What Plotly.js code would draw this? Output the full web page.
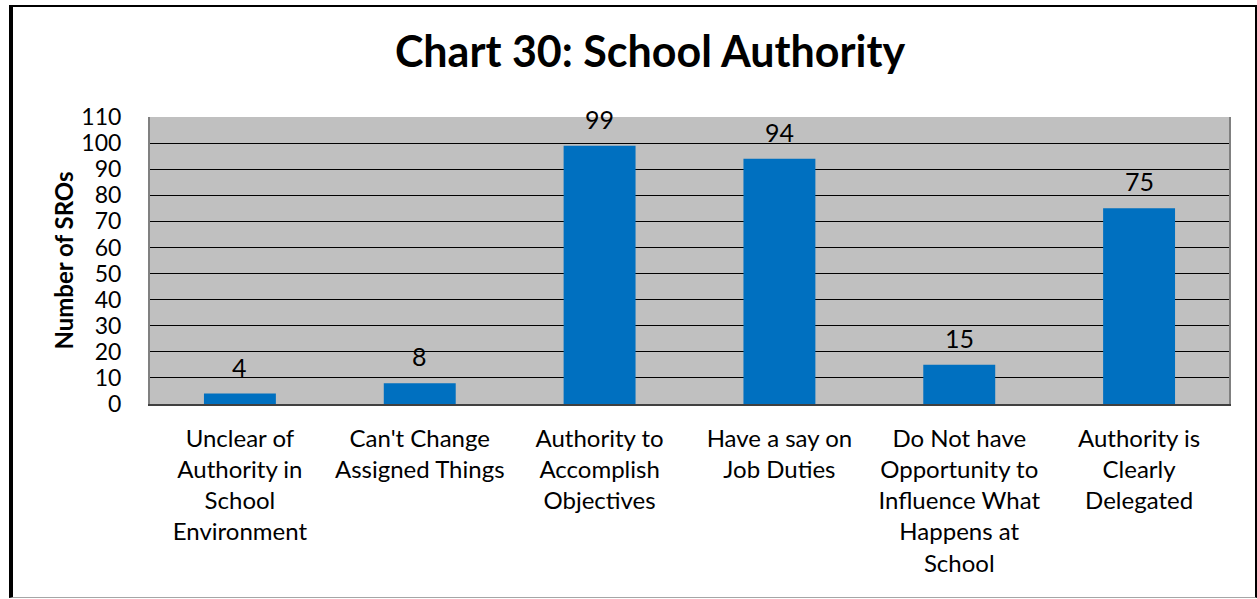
<!DOCTYPE html>
<html>
<head>
<meta charset="utf-8">
<script src="https://cdn.plot.ly/plotly-3.0.1.min.js"></script>
<style>
  html, body { margin: 0; padding: 0; background: #fff; }
  #wrap { position: relative; width: 1257px; height: 599px; overflow: hidden; }
  #chart { position: absolute; left: 0; top: 0; width: 1257px; height: 599px; }
  #frame { position: absolute; left: 9px; top: 5px; width: 1242px; height: 590px;
           border-left: 4px solid #000; border-top: 2px solid #000;
           border-right: 2px solid #000; border-bottom: 1px solid #a6a6a6;
           pointer-events: none; }
</style>
</head>
<body>
<div id="wrap">
  <div id="chart"></div>
  <div id="frame"></div>
</div>
<script>
const categories = [
  "Unclear of<br>Authority in<br>School<br>Environment",
  "Can't Change<br>Assigned Things",
  "Authority to<br>Accomplish<br>Objectives",
  "Have a say on<br>Job Duties",
  "Do Not have<br>Opportunity to<br>Influence What<br>Happens at<br>School",
  "Authority is<br>Clearly<br>Delegated"
];
const values = [4, 8, 99, 94, 15, 75];
const yTickValues = [0, 10, 20, 30, 40, 50, 60, 70, 80, 90, 100, 110];

const FONT = "Lato, 'Open Sans', sans-serif";

const trace = {
  type: 'bar',
  x: categories,
  y: values,
  marker: { color: '#0070C0', line: { width: 0 } },
  width: 0.4,
  hoverinfo: 'x+y'
};

const annotations = categories.map((c, i) => ({
  x: c, y: values[i], xref: 'x', yref: 'y',
  text: String(values[i]), showarrow: false,
  yanchor: 'middle', yshift: 27,
  font: { family: FONT, size: 25, color: '#000' }
}));

const layout = {
  width: 1257, height: 599,
  margin: { l: 150, r: 28, t: 117, b: 195 },
  paper_bgcolor: 'rgba(0,0,0,0)',
  plot_bgcolor: '#C0C0C0',
  showlegend: false,
  bargap: 0.6,
  title: {
    text: '<b>Chart 30: School Authority</b>',
    font: { family: FONT, size: 43, color: '#000' },
    xref: 'container', yref: 'container',
    x: 650 / 1257, xanchor: 'center',
    y: 1 - 52 / 599, yanchor: 'middle'
  },
  xaxis: {
    type: 'category',
    showgrid: false,
    showline: true, linecolor: '#404040', linewidth: 2,
    mirror: false,
    ticks: '',
    tickangle: 0,
    ticklabelstandoff: 12,
    tickfont: { family: FONT, size: 24, color: '#000' },
    automargin: false
  },
  yaxis: {
    range: [0, 110],
    tickvals: yTickValues,
    showgrid: true, gridcolor: '#000', gridwidth: 1,
    showline: true, linecolor: '#808080', linewidth: 2, mirror: true,
    zeroline: false,
    ticks: '',
    ticklabelstandoff: 22,
    tickfont: { family: FONT, size: 23, color: '#000' },
    title: {
      text: '<b>Number of SROs</b>',
      font: { family: FONT, size: 24, color: '#000' },
      standoff: 1
    },
    automargin: false
  },
  annotations: annotations
};

Plotly.newPlot('chart', [trace], layout, { staticPlot: true, displayModeBar: false });
</script>
</body>
</html>
